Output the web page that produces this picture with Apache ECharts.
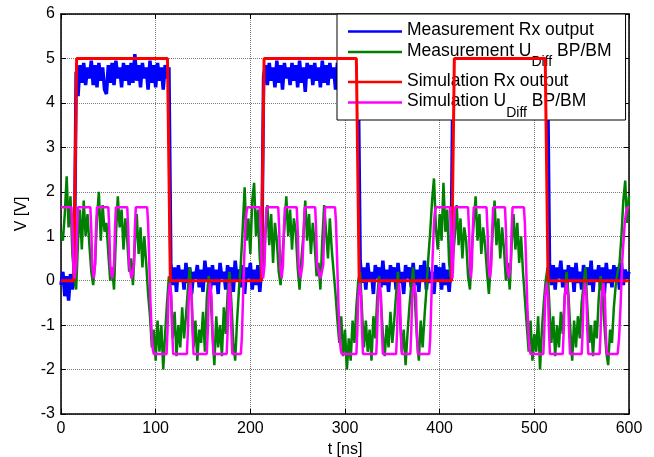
<!DOCTYPE html>
<html>
<head>
<meta charset="utf-8">
<script src="https://cdn.jsdelivr.net/npm/echarts@6/dist/echarts.min.js"></script>
<style>
  html, body { margin: 0; padding: 0; background: #fff; }
  #chart { width: 654px; height: 457px; }
</style>
</head>
<body>
<div id="chart"></div>
<script>
// Sampling step of the measured traces, in ns
const SAMPLE_NS = 2;

// Measured receiver output (V), one value every SAMPLE_NS from t = 0
const measRx = [
  -0.1, 0.2, -0.35, 0.1, -0.45, 0.15, -0.2, 0.05,
  4.7, 4.15, 4.85, 4.45, 4.9, 4.4, 4.8, 4.55, 4.95, 4.4,
  4.85, 4.35, 4.9, 4.5, 4.8, 4.3, 4.2, 4.85, 4.45, 4.9,
  4.4, 4.95, 4.55, 4.8, 4.35, 4.9, 4.5, 4.85, 4.4, 4.9,
  4.45, 5.1, 4.5, 4.85, 4.35, 4.9, 4.55, 4.8, 4.3, 4.95,
  4.45, 4.85, 4.35, 4.9, 4.5, 4.8, 4.3, 4.85, 4.55, 4.8,
  0.4, -0.1, 0.3, -0.25, 0.35, 0.0, 0.25, -0.2, 0.4, -0.05,
  0.3, -0.3, 0.2, 0.05, 0.35, -0.15, 0.25, -0.25, 0.45, 0.0,
  0.3, -0.2, 0.35, -0.1, 0.25, -0.3, 0.4, 0.05, 0.2, -0.2,
  0.35, -0.05, 0.3, -0.25, 0.45, 0.0, 0.25, -0.15, 0.35, -0.3,
  0.3, 0.05, 0.4, -0.2, 0.25, -0.1, 0.35, -0.25, 0.3,
  4.6, 4.85, 4.4, 4.9, 4.5, 4.8, 4.35, 4.95, 4.45, 4.85,
  4.3, 4.9, 4.55, 4.8, 4.4, 4.9, 4.5, 4.85, 4.35, 4.95,
  4.45, 4.8, 4.25, 4.9, 4.55, 4.85, 4.4, 4.9, 4.5, 4.8,
  4.35, 4.95, 4.45, 4.85, 4.4, 4.9, 4.55, 4.8, 4.3, 4.9,
  4.5, 4.85, 4.4, 4.95, 4.45, 4.8, 4.35, 4.9, 4.55, 4.85,
  4.6,
  0.45, -0.05, 0.3, -0.2, 0.4, 0.0, 0.2, -0.3, 0.35, 0.05,
  0.3, -0.15, 0.45, -0.1, 0.25, -0.25, 0.35, 0.0, 0.3, -0.2,
  0.4, -0.05, 0.2, -0.3, 0.35, 0.05, 0.3, -0.15, 0.4, -0.1,
  0.25, -0.25, 0.35, 0.0, 0.45, -0.2, 0.3, -0.05, 0.2, -0.3,
  0.35, 0.0, 0.3, -0.2, 0.4, -0.1, 0.25, -0.25, 0.3,
  4.5, 4.9, 4.4, 4.85, 4.55, 4.9, 4.35, 4.8, 4.5, 4.95,
  4.4, 4.85, 4.3, 4.9, 4.55, 4.8, 4.45, 4.9, 4.35, 4.85,
  4.5, 4.95, 4.4, 4.8, 4.55, 4.9, 4.3, 4.85, 4.45, 4.9,
  4.4, 4.8, 4.5, 4.95, 4.35, 4.85, 4.55, 4.9, 4.4, 4.8,
  4.5, 4.9, 4.3, 4.85, 4.45, 4.9, 4.55, 4.8, 4.4, 4.85,
  4.7,
  0.4, -0.1, 0.35, -0.2, 0.3, 0.05, 0.45, -0.15, 0.25, -0.3,
  0.35, 0.0, 0.3, -0.25, 0.4, -0.05, 0.2, -0.2, 0.35, 0.05,
  0.3, -0.1, 0.45, -0.25, 0.25, 0.0, 0.35, -0.2, 0.3, -0.3,
  0.4, -0.05, 0.25, -0.15, 0.35, 0.0, 0.3, -0.2, 0.4, -0.1,
  0.25, 0.05, 0.2
];

// Measured differential bus voltage BP/BM (V), one value every SAMPLE_NS from t = 0
const measDiff = [
  1.1, 0.9, 1.5, 2.35, 1.2, 1.9, 0.6, 0.1, -0.2, 0.9,
  1.6, 0.7, 1.8, 1.0, 1.5, 0.8, 0.2, -0.1, 0.4, 1.4,
  2.0, 0.9, 1.7, 1.1, 1.3, 0.6, 0.0, 0.3, -0.2, 1.0,
  1.9, 1.2, 1.6, 0.7, 1.4, 0.9, 0.2, 0.5, -0.1, 0.8,
  1.5, 0.6, 1.2, 0.3, 1.0, 0.4, -0.3, -0.8,
  -1.5, -1.1, -1.8, -0.9, -1.6, -1.0, -2.0, -1.2, -0.5, 0.1,
  -0.2, -1.3, -0.7, -1.7, -1.0, -1.5, -0.6, -1.3, -0.8, -0.2,
  0.3, -0.4, -1.5, -0.9, -1.8, -1.1, -1.4, -0.7, -1.6, -0.4,
  0.1, -0.3, -1.2, -1.9, -0.8, -1.5, -1.0, -1.7, -0.6, -1.2,
  -0.3, 0.2, -0.5, -1.4, -1.8, -0.9, -0.2, 0.4, 1.2, 2.1,
  0.9,
  1.4, 0.6, 1.8, 2.2, 1.0, 1.6, 0.5, 0.0, 0.3, 1.1,
  1.7, 0.8, 1.5, 0.4, 1.3, 0.9, 0.2, -0.1, 0.6, 1.2,
  1.9, 1.0, 1.6, 0.7, 1.4, 1.1, 0.3, -0.2, 0.5, 1.0,
  1.8, 0.9, 1.5, 0.6, 1.3, 0.8, 0.1, 0.4, -0.2, 0.9,
  1.7, 1.1, 0.5, 1.4, 0.7, 0.2, -0.3, -0.9,
  -1.4, -0.8, -1.7, -1.1, -2.0, -1.3, -1.8, -0.9, -1.4, -0.6,
  0.0, 0.2, -0.7, -1.5, -0.9, -1.6, -1.1, -1.8, -0.8, -1.3,
  -0.4, 0.1, -0.5, -1.2, -1.7, -1.0, -1.5, -0.7, -1.4, -0.9,
  -0.3, 0.2, -0.8, -1.6, -1.1, -1.9, -1.2, -0.6, -0.1, 0.3,
  -0.5, -1.3, -1.8, -0.9, -1.5, -0.8, -0.2, 0.5, 1.1, 1.8,
  2.3,
  1.2, 0.7, 1.5, 0.9, 2.2, 1.1, 1.6, 0.4, 0.0, 0.5,
  1.0, 1.7, 0.8, 1.4, 0.5, 1.2, 0.9, 0.1, -0.2, 0.7,
  1.3, 1.9, 0.9, 1.5, 0.6, 1.2, 0.8, 0.2, -0.3, 0.4,
  1.1, 1.8, 0.8, 1.4, 0.5, 1.2, 0.7, 0.0, 0.4, -0.2,
  0.8, 1.5, 0.7, 1.3, 0.4, 1.0, 0.2, -0.4, -1.0,
  -1.6, -0.9, -1.8, -1.2, -1.6, -0.8, -2.0, -1.1, -0.5, 0.0,
  0.3, -0.6, -1.4, -0.8, -1.7, -1.0, -1.5, -0.7, -1.2, -0.4,
  0.2, -0.3, -1.1, -1.8, -0.9, -1.5, -0.8, -1.3, -0.5, -0.1,
  0.3, -0.6, -1.4, -1.0, -1.7, -0.9, -1.3, -0.4, 0.1, -0.3,
  -1.0, -1.6, -1.9, -1.1, -1.4, -0.6, -0.1, 0.2, 0.4, 1.0,
  1.8, 2.25, 1.3, 1.9
];

// Simulated receiver output: [t (ns), V] breakpoints
const simRx = [
  [0, 0], [13.5, 0], [16.5, 5], [112.5, 5], [115.5, 0],
  [211.5, 0], [214.5, 5], [312, 5], [315, 0],
  [412.5, 0], [415.5, 5], [511.5, 5], [514.5, 0], [600, 0]
];

// Simulated differential bus voltage BP/BM: [t (ns), V] breakpoints
const simDiff = [
  [0,1.65],[11,1.65],[12,1.15],[13,0.35],[14.5,0.05],[16,0.35],[17,1.15],[18,1.65],
  [31,1.65],[32,1.15],[33,0.35],[34.5,0.05],[36,0.35],[37,1.15],[38,1.65],
  [50,1.65],[51,1.15],[52,0.35],[54,0.05],[56,0.35],[57,1.15],[58,1.65],
  [70,1.65],[71,1.15],[72,0.35],[74.5,0.05],[77,0.35],[78,1.15],[79,1.65],
  [91,1.65],[92,1.3],[93,0.6],[94.5,-0.5],[96,-1.3],[97,-1.55],[98,-1.65],
  [111.5,-1.65],[112.5,-1.15],[113.5,-0.35],[115,-0.05],[116.5,-0.35],[117.5,-1.15],[118.5,-1.65],
  [133,-1.65],[134,-1.15],[135,-0.35],[136.5,-0.05],[138,-0.35],[139,-1.15],[140,-1.65],
  [154,-1.65],[155,-1.15],[156,-0.35],[157.5,-0.05],[159,-0.35],[160,-1.15],[161,-1.65],
  [175,-1.65],[176,-1.15],[177,-0.35],[178,-0.05],[179,-0.35],[180,-1.15],[181,-1.65],
  [190,-1.65],[191,-1.3],[192,-0.6],[193.5,0.5],[195,1.3],[196,1.55],[197,1.65],
  [210,1.65],[211,1.15],[212,0.35],[213.5,0.05],[215,0.35],[216,1.15],[217,1.65],
  [229.5,1.65],[230.5,1.15],[231.5,0.35],[233,0.05],[234.5,0.35],[235.5,1.15],[236.5,1.65],
  [249,1.65],[250,1.15],[251,0.35],[253,0.05],[255,0.35],[256.5,1.15],[257.5,1.65],
  [268.5,1.65],[269.5,1.15],[270.5,0.35],[274,0.05],[277,0.35],[278,1.15],[279,1.65],
  [289.5,1.65],[290.5,1.3],[291.5,0.6],[293,-0.5],[294.5,-1.3],[295.5,-1.55],[296.5,-1.65],
  [312,-1.65],[313,-1.15],[314,-0.35],[315.5,-0.05],[317,-0.35],[318,-1.15],[319,-1.65],
  [333,-1.65],[334,-1.15],[335,-0.35],[336.5,-0.05],[338,-0.35],[339,-1.15],[340,-1.65],
  [354,-1.65],[355,-1.15],[356,-0.35],[357,-0.05],[358,-0.35],[359,-1.15],[360,-1.65],
  [369,-1.65],[370,-1.15],[371,-0.35],[373,-0.05],[375,-0.35],[376,-1.15],[377,-1.65],
  [389,-1.65],[390,-1.3],[391,-0.6],[392.5,0.5],[394,1.3],[395,1.55],[396,1.65],
  [411,1.65],[412,1.1],[412.8,0.35],[413.5,0.05],[414.2,0.35],[415,1.1],[416,1.65],
  [430,1.65],[431,1.15],[432,0.35],[433,0.05],[434,0.35],[435,1.15],[436,1.65],
  [449.5,1.65],[450.5,1.15],[451.5,0.35],[453,0.05],[454.5,0.35],[455.5,1.15],[456.5,1.65],
  [469,1.65],[470,1.15],[471,0.35],[473,0.05],[475,0.35],[476,1.15],[477,1.65],
  [489,1.65],[490,1.3],[491,0.6],[492.5,-0.5],[494,-1.3],[495,-1.55],[496,-1.65],
  [509.5,-1.65],[510.5,-1.15],[511.5,-0.35],[513,-0.05],[514.5,-0.35],[515.5,-1.15],[516.5,-1.65],
  [530,-1.65],[531,-1.15],[532,-0.35],[534,-0.05],[535.7,-0.35],[536.7,-1.15],[537.7,-1.65],
  [550,-1.65],[551,-1.15],[552,-0.35],[553.5,-0.05],[555,-0.35],[556,-1.15],[557,-1.65],
  [569,-1.65],[570,-1.15],[571,-0.35],[573,-0.05],[574.5,-0.35],[575.5,-1.15],[576.5,-1.65],
  [588,-1.65],[589.5,-1.3],[591,-0.6],[593,0.5],[595.5,1.3],[597,1.55],[598.5,1.65],[600,1.65]
];

// Axis ranges and tick spacing
const xRange = { min: 0, max: 600, step: 100 };
const yRange = { min: -3, max: 6, step: 1 };
const xTitle = 't [ns]';
const yTitle = 'V [V]';

// Series names and how they are typeset in the legend (U with subscript "Diff")
const seriesNames = [
  'Measurement Rx output',
  'Measurement UDiff BP/BM',
  'Simulation Rx output',
  'Simulation UDiff BP/BM'
];
const legendRich = {
  'Measurement Rx output': '{a|Measurement Rx output}',
  'Measurement UDiff BP/BM': '{a|Measurement U}{b|Diff}{a| BP/BM}',
  'Simulation Rx output': '{a|Simulation Rx output}',
  'Simulation UDiff BP/BM': '{a|Simulation U}{b|Diff}{a| BP/BM}'
};
const colors = ['#0000ff', '#008000', '#ff0000', '#ff00ff'];

const FONT = "'Liberation Sans', Arial, Helvetica, sans-serif";

const sampled = (vals) => vals.map((v, i) => [i * SAMPLE_NS, v]);

const chart = echarts.init(document.getElementById('chart'), null, { renderer: 'canvas' });

const axisText = { color: '#000', fontFamily: FONT, fontSize: 16 };
const blackLine = { color: '#000', width: 1.5 };
const gridLine = { show: true, lineStyle: { type: 'dotted', color: '#7a7a7a', width: 1 } };

chart.setOption({
  animation: false,
  backgroundColor: '#ffffff',
  color: colors,
  grid: { left: 61, right: 25, top: 14, bottom: 43, containLabel: false, outerBoundsMode: 'none' },
  xAxis: [
    {
      type: 'value', position: 'bottom',
      min: xRange.min, max: xRange.max, interval: xRange.step,
      name: xTitle, nameLocation: 'middle', nameGap: 25,
      nameTextStyle: axisText,
      axisLine: { show: true, onZero: false, lineStyle: blackLine },
      axisTick: { show: true, inside: true, length: 5, lineStyle: { color: '#000' } },
      axisLabel: Object.assign({ margin: 7 }, axisText),
      splitLine: gridLine
    },
    {
      type: 'value', position: 'top',
      min: xRange.min, max: xRange.max, interval: xRange.step,
      axisLine: { show: true, onZero: false, lineStyle: blackLine },
      axisTick: { show: true, inside: true, length: 5, lineStyle: { color: '#000' } },
      axisLabel: { show: false },
      splitLine: { show: false }
    }
  ],
  yAxis: [
    {
      type: 'value', position: 'left',
      min: yRange.min, max: yRange.max, interval: yRange.step,
      name: yTitle, nameLocation: 'middle', nameGap: 30, nameRotate: 90,
      nameTextStyle: axisText,
      axisLine: { show: true, onZero: false, lineStyle: blackLine },
      axisTick: { show: true, inside: true, length: 5, lineStyle: { color: '#000' } },
      axisLabel: Object.assign({ margin: 6 }, axisText),
      splitLine: gridLine
    },
    {
      type: 'value', position: 'right',
      min: yRange.min, max: yRange.max, interval: yRange.step,
      axisLine: { show: true, onZero: false, lineStyle: blackLine },
      axisTick: { show: true, inside: true, length: 5, lineStyle: { color: '#000' } },
      axisLabel: { show: false },
      splitLine: { show: false }
    }
  ],
  legend: {
    orient: 'vertical',
    left: 337, top: 14,
    padding: [7.5, 14, 0, 11],
    itemGap: 2.5,
    itemWidth: 54, itemHeight: 2.5,
    icon: 'rect',
    backgroundColor: '#ffffff',
    borderColor: '#000', borderWidth: 1,
    data: seriesNames,
    formatter: (name) => legendRich[name],
    textStyle: {
      color: '#000', fontFamily: FONT,
      rich: {
        a: { fontFamily: FONT, fontSize: 17.5, lineHeight: 20, verticalAlign: 'top', color: '#000' },
        b: { fontFamily: FONT, fontSize: 14, lineHeight: 14, verticalAlign: 'top', padding: [13.5, 0, 0, 0], color: '#000' }
      }
    }
  },
  series: [
    {
      name: seriesNames[0], type: 'line', data: sampled(measRx),
      showSymbol: false, symbol: 'none', lineStyle: { width: 3.5, color: colors[0] }, z: 2
    },
    {
      name: seriesNames[1], type: 'line', data: sampled(measDiff),
      showSymbol: false, symbol: 'none', lineStyle: { width: 2.5, color: colors[1] }, z: 3
    },
    {
      name: seriesNames[2], type: 'line', data: simRx,
      showSymbol: false, symbol: 'none', lineStyle: { width: 3, color: colors[2] }, z: 4
    },
    {
      name: seriesNames[3], type: 'line', data: simDiff,
      showSymbol: false, symbol: 'none', lineStyle: { width: 2.5, color: colors[3] }, z: 5
    }
  ]
});
</script>
</body>
</html>
